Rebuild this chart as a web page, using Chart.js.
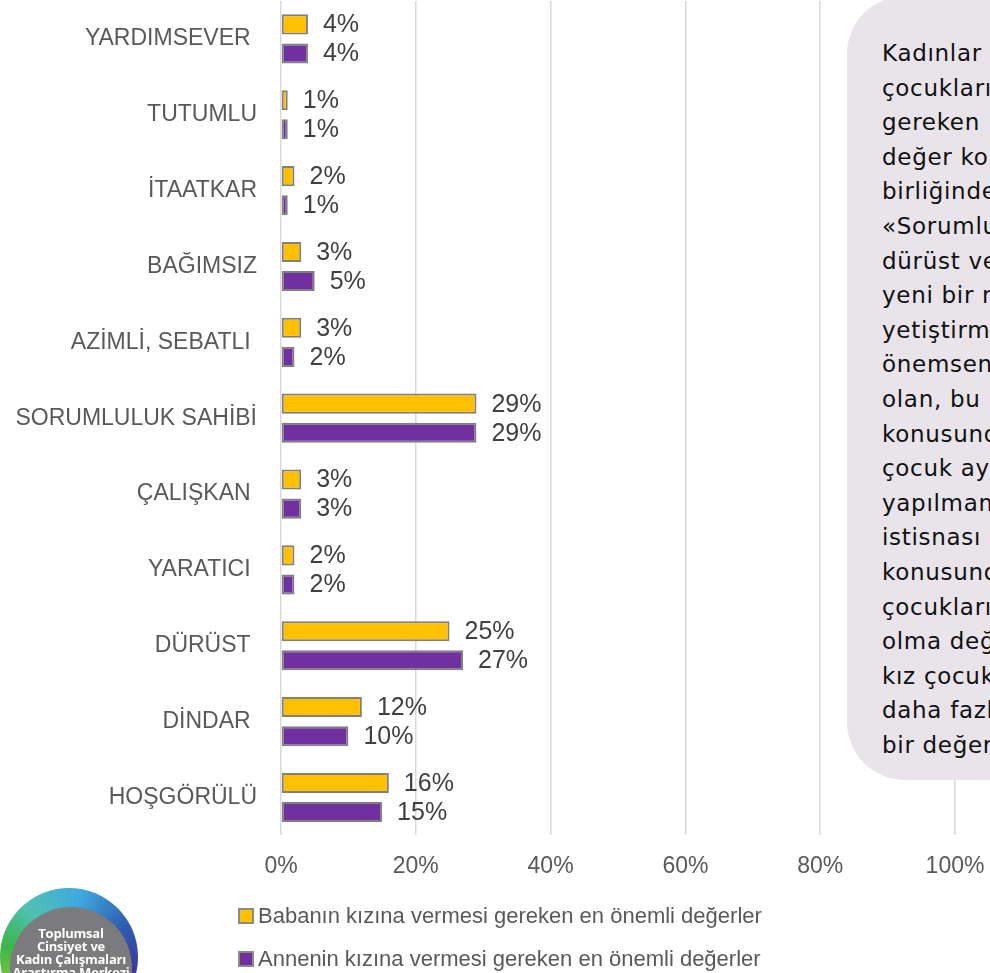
<!DOCTYPE html>
<html>
<head>
<meta charset="UTF-8">
<title>Değerler</title>
<script src="https://cdn.jsdelivr.net/npm/chart.js@4.4.0/dist/chart.umd.min.js"></script>
<style>
  html, body { margin: 0; padding: 0; background: #fff; }
  body { width: 990px; height: 973px; overflow: hidden; position: relative; }
  #wrap { position: absolute; left: 0; top: 0; width: 990px; height: 973px; }
  #note {
    position: absolute; left: 847px; top: -4px; width: 200px; height: 784px;
    background: #e8e4ea; border-radius: 58px 0 0 58px; z-index: 2;
    font-family: "DejaVu Sans", sans-serif; font-size: 23px; letter-spacing: 0.7px; color: #111;
  }
  #note div { position: absolute; left: 35px; white-space: nowrap; }
  #legend { position: absolute; left: 238px; top: 894px; z-index: 2;
    font-family: "Liberation Sans", Arial, sans-serif; font-size: 22px; color: #595959; }
  .lg { display: flex; align-items: center; height: 43px; }
  .lg span.sw { width: 12px; height: 12px; border: 2px solid #8a8a8a; margin-right: 4px; }
  #logo { position: absolute; left: 0; top: 888px; width: 138px; height: 138px; border-radius: 50%;
    background: conic-gradient(from 200deg, #c8d400, #8cc63f 40deg, #3db54a 80deg, #4fc1b0 120deg,
      #3fa9e0 170deg, #2e5fb0 220deg, #3a3a9a 260deg, #8a2ca0 300deg, #c8d400 360deg); }
  #logo .in { position: absolute; left: 10px; top: 19px; width: 122px; height: 122px; border-radius: 50%;
    background: #7b7b7d; color: #fff; font-family: "Open Sans", sans-serif; font-weight: bold;
    font-size: 13px; line-height: 13px; text-align: center; letter-spacing: -0.2px; }
</style>
</head>
<body>
<div id="wrap"><canvas id="myChart"></canvas></div>
<div id="note"></div>
<div id="legend"></div>
<div id="logo"><div class="in"><div style="height:20px"></div>Toplumsal<br>Cinsiyet ve<br>Kadın Çalışmaları<br>Araştırma Merkezi</div></div>

<script>
  // categories (trailing spaces kept as in the source labels)
  var categories = ['YARDIMSEVER ', 'TUTUMLU', 'İTAATKAR', 'BAĞIMSIZ', 'AZİMLİ, SEBATLI ',
    'SORUMLULUK SAHİBİ', 'ÇALIŞKAN ', 'YARATICI ', 'DÜRÜST ', 'DİNDAR ', 'HOŞGÖRÜLÜ'];
  var babaValues = [4, 1, 2, 3, 3, 29, 3, 2, 25, 12, 16];
  var anneValues = [4, 1, 1, 5, 2, 29, 3, 2, 27, 10, 15];
  var seriesLabels = ['Babanın kızına vermesi gereken en önemli değerler',
    'Annenin kızına vermesi gereken en önemli değerler'];
  var seriesColors = ['#ffc000', '#7030a0'];
  var xTicks = [0, 20, 40, 60, 80, 100];
  // side note, cut by the right edge of the page like the source
  var noteLines = ['Kadınlar', 'çocuklarına', 'gereken', 'değer konusunda', 'birliğindeler.',
    '«Sorumluluk', 'dürüst ve', 'yeni bir nesil', 'yetiştirmeyi', 'önemsenen', 'olan, bu',
    'konusunda', 'çocuk ayrımı', 'yapılmamaktadır', 'istisnası', 'konusunda',
    'çocuklarına', 'olma değeri', 'kız çocuklarına', 'daha fazla', 'bir değer'];

  var note = document.getElementById('note');
  for (var i = 0; i < noteLines.length; i++) {
    var d = document.createElement('div');
    d.style.top = (44 + i * 34.6) + 'px';
    d.textContent = noteLines[i];
    note.appendChild(d);
  }

  // legend
  var lg = document.getElementById('legend');
  for (var i = 0; i < seriesLabels.length; i++) {
    var row = document.createElement('div');
    row.className = 'lg';
    row.innerHTML = '<span class="sw" style="background:' + seriesColors[i] + '"></span>';
    var t = document.createElement('span');
    t.textContent = seriesLabels[i];
    row.appendChild(t);
    lg.appendChild(row);
  }

  var valueLabels = {
    id: 'valueLabels',
    afterDatasetsDraw: function (chart) {
      var ctx = chart.ctx;
      ctx.save();
      ctx.font = '25px "Liberation Sans", Arial, sans-serif';
      ctx.fillStyle = '#404040';
      ctx.textAlign = 'left';
      ctx.textBaseline = 'middle';
      chart.data.datasets.forEach(function (ds, di) {
        chart.getDatasetMeta(di).data.forEach(function (bar, j) {
          ctx.fillText(ds.data[j] + '%', bar.x + 15, bar.y + 1);
        });
      });
      ctx.restore();
    }
  };

  var ctx = document.getElementById('myChart');
  var myChart = new Chart(ctx, {
    type: 'bar',
    data: {
      labels: categories,
      datasets: [{
        label: seriesLabels[0],
        data: babaValues,
        backgroundColor: seriesColors[0],
        borderColor: '#808080',
        borderWidth: 2,
        borderSkipped: false
      }, {
        label: seriesLabels[1],
        data: anneValues,
        backgroundColor: seriesColors[1],
        borderColor: '#808080',
        borderWidth: 2,
        borderSkipped: false
      }]
    },
    options: {
      indexAxis: 'y',
      responsive: true,
      maintainAspectRatio: false,
      animation: false,
      categoryPercentage: 0.767,
      barPercentage: 0.69,
      layout: { padding: { left: 0, right: 35, top: 1, bottom: 76 } },
      plugins: {
        legend: { display: false },
        tooltip: { enabled: false }
      },
      scales: {
        x: {
          min: 0,
          max: 100,
          afterBuildTicks: function (scale) {
            scale.ticks = xTicks.map(function (v) { return { value: v }; });
          },
          afterFit: function (scale) { scale.paddingLeft = 0; scale.paddingRight = 0; },
          grid: { color: '#d9d9d9', lineWidth: 1.5, drawTicks: false },
          border: { display: false },
          ticks: {
            padding: 17,
            maxRotation: 0,
            color: '#595959',
            font: { family: '"Liberation Sans", Arial, sans-serif', size: 23 },
            callback: function (v) { return v + '%'; }
          }
        },
        y: {
          afterFit: function (scale) {
            scale.width = 281;
            scale.paddingTop = 0;
            scale.paddingBottom = 0;
          },
          grid: { display: false, drawTicks: false },
          border: { display: false },
          ticks: {
            padding: 24,
            color: '#595959',
            font: { family: '"Liberation Sans", Arial, sans-serif', size: 23 }
          }
        }
      }
    },
    plugins: [valueLabels]
  });
</script>
</body>
</html>
